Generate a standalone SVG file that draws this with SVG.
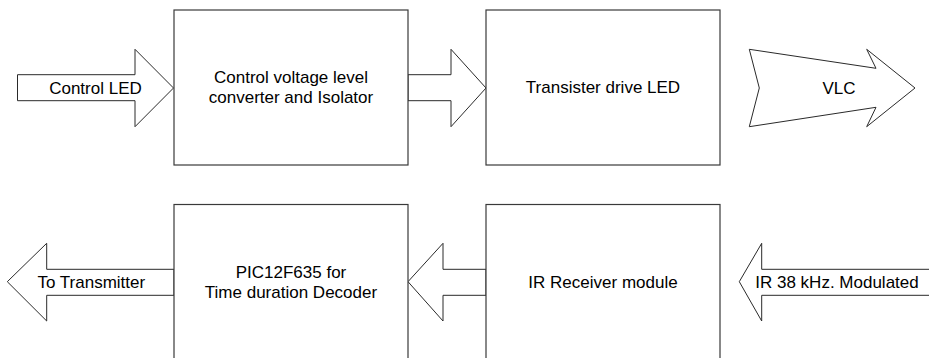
<svg xmlns="http://www.w3.org/2000/svg" width="929" height="358" viewBox="0 0 929 358">
<style>
.box{fill:#fff;stroke:#3a3a3a;stroke-width:1.2}
.arr{fill:#fff;stroke:#2a2a2a;stroke-width:1;stroke-linejoin:miter}
text{font-family:"Liberation Sans",Arial,sans-serif;font-size:17px;fill:#000;text-anchor:middle}
</style>
<rect width="929" height="358" fill="#fff"/>
<g id="connectors">
<g id="arrow-control-led"><polygon class="arr" points="17.5,74.7 135,74.7 135,49.3 173.5,88 135,126.7 135,100.7 17.5,100.7"/><text x="95.5" y="93.5">Control LED</text></g>
<g id="arrow-1-2"><polygon class="arr" points="408,74.7 451,74.7 451,49.3 486,88 451,126.7 451,100.7 408,100.7"/></g>
<g id="arrow-vlc"><polygon class="arr" points="749.3,49.3 876,68.3 866.7,49.3 915,88 866.7,126.7 876,107.3 749.3,126.7 759.3,88"/><text x="839" y="93.5">VLC</text></g>
<g id="arrow-to-transmitter"><polygon class="arr" points="7.3,281.7 46.7,243.3 46.7,269.3 174,269.3 174,295.3 46.7,295.3 46.7,321"/><text x="91.3" y="288">To Transmitter</text></g>
<g id="arrow-4-3"><polygon class="arr" points="408,281.7 443,243.3 443,269.3 486,269.3 486,295.3 443,295.3 443,321"/></g>
<g id="arrow-ir"><polygon class="arr" points="739.3,281.7 761.7,243.3 761.7,269.3 932,269.3 932,295.3 761.7,295.3 761.7,321"/><text x="837" y="288">IR 38 kHz. Modulated</text></g>
</g>
<g id="node-converter"><rect class="box" x="174" y="10" width="234" height="155"/><text x="291" y="82.5">Control voltage level</text><text x="291" y="103">converter and Isolator</text></g>
<g id="node-transistor"><rect class="box" x="486" y="10" width="234" height="155"/><text x="603" y="93">Transister drive LED</text></g>
<g id="node-pic"><rect class="box" x="174" y="204.5" width="234" height="160"/><text x="291" y="277.5">PIC12F635 for</text><text x="291" y="297.5">Time duration Decoder</text></g>
<g id="node-ir-receiver"><rect class="box" x="486" y="204.5" width="234" height="160"/><text x="603" y="288">IR Receiver module</text></g>
</svg>
